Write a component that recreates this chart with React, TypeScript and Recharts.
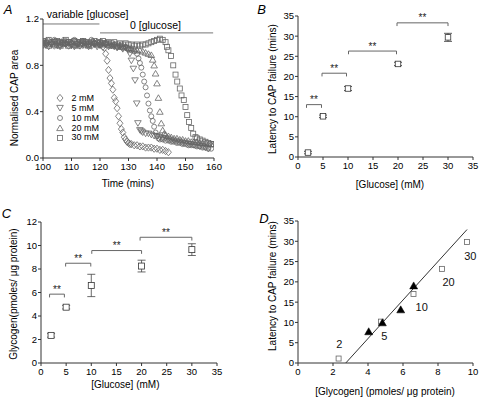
import React from 'react';
import { ComposedChart, Scatter, XAxis, YAxis, ReferenceLine, ErrorBar } from 'recharts';

const FONT = '"Liberation Sans", Arial, Helvetica, sans-serif';
const MARK = '#666';
const AXIS = '#333';
const BRACKET = '#666';

// ---------- Panel A: normalised CAP area vs time ----------
const timeTicksA = [100, 110, 120, 130, 140, 150, 160];
const capTicksA = [0, 0.4, 0.8, 1.2];

const cap2mM: [number, number][] = [
  [100, 1.0], [101, 0.98], [102, 1.01], [103, 0.99], [104, 0.97], [105, 1.0], [106, 0.98], [107, 1.01], [108, 0.99], [109, 0.97],
  [110, 0.99], [111, 1.0], [112, 0.98], [113, 0.97], [114, 0.99], [115, 1.0], [116, 0.98], [117, 0.97], [118, 0.99], [119, 1.0],
  [120, 0.98], [121, 0.96], [121.5, 0.95], [122, 0.9], [122.5, 0.84], [123, 0.76], [123.5, 0.69], [124, 0.645], [124.5, 0.59],
  [125, 0.52], [125.5, 0.49], [126, 0.43], [126.5, 0.36], [127, 0.3], [127.5, 0.25], [128, 0.22], [128.5, 0.18], [129, 0.16],
  [129.5, 0.14], [130, 0.13], [130.5, 0.12], [131, 0.12], [132, 0.11], [133, 0.11], [134, 0.1], [135, 0.1], [136, 0.09],
  [137, 0.09], [138, 0.09], [139, 0.08], [140, 0.08], [141, 0.07], [142, 0.07], [143, 0.06], [144, 0.05],
];
const cap5mM: [number, number][] = [
  [100, 0.97], [101, 0.99], [102, 0.96], [103, 0.98], [104, 1.0], [105, 0.97], [106, 0.96], [107, 0.99], [108, 0.98], [109, 1.0],
  [110, 0.97], [111, 0.96], [112, 0.98], [113, 1.0], [114, 0.97], [115, 0.98], [116, 0.96], [117, 0.99], [118, 0.98], [119, 0.96],
  [120, 0.97], [121, 0.99], [122, 0.98], [123, 0.96], [124, 0.97], [125, 0.96], [126, 0.95], [127, 0.96], [128, 0.94], [129, 0.95],
  [130, 0.93], [130.5, 0.9], [131, 0.84], [131.7, 0.77], [132.3, 0.67], [132.9, 0.47], [133.3, 0.3], [134, 0.24], [134.5, 0.23],
  [135, 0.22], [136, 0.21], [137, 0.21], [138, 0.2], [139, 0.19], [140, 0.19], [141, 0.18], [142, 0.17], [143, 0.17], [144, 0.16],
  [145, 0.15], [146, 0.15], [147, 0.14], [148, 0.14], [149, 0.13], [150, 0.13], [151, 0.12], [152, 0.12], [153, 0.11], [154, 0.11],
  [155, 0.1], [156, 0.1], [157, 0.09], [158, 0.08],
];
const cap10mM: [number, number][] = [
  [100, 0.99], [101, 1.01], [102, 0.98], [103, 1.0], [104, 1.02], [105, 0.99], [106, 1.0], [107, 0.98], [108, 1.01], [109, 0.99],
  [110, 1.0], [111, 1.02], [112, 0.99], [113, 0.98], [114, 1.01], [115, 0.99], [116, 1.0], [117, 1.02], [118, 0.99], [119, 0.98],
  [120, 1.0], [121, 0.99], [122, 0.98], [123, 0.99], [124, 0.97], [125, 0.98], [126, 0.96], [127, 0.97], [128, 0.95], [129, 0.96],
  [130, 0.94], [131, 0.93], [132, 0.92], [133, 0.9], [133.5, 0.86], [134, 0.82], [134.5, 0.78], [135, 0.72], [135.5, 0.66],
  [136, 0.61], [136.5, 0.54], [137, 0.47], [137.5, 0.41], [138, 0.36], [138.5, 0.32], [139, 0.27], [139.5, 0.22], [140, 0.19],
  [140.5, 0.17], [141, 0.16], [142, 0.16], [143, 0.15], [144, 0.15], [145, 0.14], [146, 0.14], [147, 0.13], [148, 0.13],
  [149, 0.12], [150, 0.12], [151, 0.11], [152, 0.11], [153, 0.11], [154, 0.1], [155, 0.1], [156, 0.09], [157, 0.09], [158, 0.08],
  [159, 0.08],
];
const cap20mM: [number, number][] = [
  [100, 0.98], [101, 1.0], [102, 0.97], [103, 0.99], [104, 1.01], [105, 0.98], [106, 0.97], [107, 1.0], [108, 0.99], [109, 0.97],
  [110, 1.0], [111, 0.98], [112, 0.97], [113, 0.99], [114, 1.01], [115, 0.98], [116, 0.97], [117, 0.99], [118, 1.0], [119, 0.98],
  [120, 0.99], [121, 0.98], [122, 1.0], [123, 0.98], [124, 0.97], [125, 0.98], [126, 0.97], [127, 0.96], [128, 0.97], [129, 0.96],
  [130, 0.95], [131, 0.95], [132, 0.94], [133, 0.93], [134, 0.93], [135, 0.92], [136, 0.91], [137, 0.9], [138, 0.89], [138.5, 0.85],
  [139, 0.8], [139.5, 0.73], [140, 0.645], [140.5, 0.52], [141, 0.4], [141.5, 0.3], [142, 0.24], [142.5, 0.21], [143, 0.2],
  [144, 0.19], [145, 0.18], [146, 0.17], [147, 0.17], [148, 0.16], [149, 0.16], [150, 0.15], [151, 0.15], [152, 0.14], [153, 0.14],
  [154, 0.14], [155, 0.13], [156, 0.13], [157, 0.13], [158, 0.12], [159, 0.12], [160, 0.12],
];
const cap30mM: [number, number][] = [
  [100, 1.01], [101, 0.99], [102, 1.02], [103, 1.0], [104, 0.98], [105, 1.01], [106, 1.0], [107, 0.99], [108, 1.02], [109, 1.0],
  [110, 0.98], [111, 1.01], [112, 1.0], [113, 0.99], [114, 1.01], [115, 1.0], [116, 0.98], [117, 1.0], [118, 1.01], [119, 0.99],
  [120, 1.0], [121, 1.01], [122, 0.99], [123, 1.0], [124, 0.99], [125, 1.0], [126, 0.98], [127, 0.99], [128, 0.98], [129, 0.99],
  [130, 0.98], [131, 0.98], [132, 0.97], [133, 0.98], [134, 0.97], [135, 0.98], [136, 0.98], [137, 0.99], [138, 1.0], [139, 1.01],
  [140, 1.02], [141, 1.03], [142, 1.02], [143, 1.0], [143.5, 0.96], [144, 0.93], [144.9, 0.88], [145.7, 0.8], [146.5, 0.72],
  [147.1, 0.66], [148, 0.6], [148.6, 0.54], [149.4, 0.5], [150, 0.44], [150.6, 0.37], [151.2, 0.31], [152, 0.26], [152.7, 0.21],
  [153.5, 0.18], [154, 0.17], [155, 0.16], [156, 0.15], [157, 0.14], [158, 0.13], [159, 0.12], [160, 0.12],
];
const legendLabelsA = ['2 mM', '5 mM', '10 mM', '20 mM', '30 mM'];

// ---------- Panels B & C ----------
const glucoseConc = [2, 5, 10, 20, 30];
const latency = [1.1, 10.1, 17.0, 23.1, 29.7];
const latencyErr = [0.3, 0.3, 0.5, 0.4, 1.0];
const glycogen = [2.35, 4.75, 6.6, 8.25, 9.65];
const glycogenErr = [0.15, 0.15, 0.95, 0.5, 0.5];
const concTicks = [0, 5, 10, 15, 20, 25, 30, 35];
const latencyTicks = [0, 5, 10, 15, 20, 25, 30, 35];
const glycogenTicks = [0, 2, 4, 6, 8, 10, 12];

// significance brackets [x1, x2, y]
const bracketsB: [number, number, number][] = [[1.7, 4.7, 13.0], [4.8, 9.7, 20.8], [10.1, 19.7, 26.3], [19.8, 30, 33.3]];
const bracketsC: [number, number, number][] = [[1.7, 4.65, 5.86], [4.9, 9.9, 8.49], [10.1, 20, 9.57], [19.7, 30, 10.7]];

// ---------- Panel D ----------
const glycogenD = [2.32, 4.74, 6.6, 8.23, 9.66];
const latencyD = [1.1, 10.2, 17.0, 23.2, 29.8];
const triGlycogen = [4.04, 4.82, 5.87, 6.61];
const triLatency = [7.7, 9.9, 13.1, 19.0];
const fitStart = { x: 2.73, y: 0 };
const fitEnd = { x: 9.66, y: 32.9 };
const pointLabelsD = ['2', '5', '10', '20', '30'];
const labelXD = [2.36, 4.93, 7.07, 8.6, 9.85];
const labelYD = [4.8, 6.7, 13.7, 20.0, 26.3];
const glyTicksD = [0, 2, 4, 6, 8, 10];

// ---------- shapes ----------
const sw = 0.8;
const diamond = (p: any) => (
  <path d={`M${p.cx},${p.cy - 3.6}L${p.cx + 3},${p.cy}L${p.cx},${p.cy + 3.6}L${p.cx - 3},${p.cy}Z`} fill="none" stroke={MARK} strokeWidth={sw} />
);
const triDown = (p: any) => (
  <path d={`M${p.cx - 3.3},${p.cy - 2.6}L${p.cx + 3.3},${p.cy - 2.6}L${p.cx},${p.cy + 3}Z`} fill="none" stroke={MARK} strokeWidth={sw} />
);
const triUp = (p: any) => (
  <path d={`M${p.cx},${p.cy - 3}L${p.cx + 3.3},${p.cy + 2.6}L${p.cx - 3.3},${p.cy + 2.6}Z`} fill="none" stroke={MARK} strokeWidth={sw} />
);
const circ = (p: any) => <circle cx={p.cx} cy={p.cy} r={2.5} fill="none" stroke={MARK} strokeWidth={sw} />;
const sq = (s: number, color: string, fill: string) => (p: any) => (
  <rect x={p.cx - s / 2} y={p.cy - s / 2} width={s} height={s} fill={fill} stroke={color} strokeWidth={sw} />
);
const solidTri = (p: any) => (
  <path d={`M${p.cx},${p.cy - 4}L${p.cx + 4},${p.cy + 3}L${p.cx - 4},${p.cy + 3}Z`} fill="#000" stroke="#000" strokeWidth={0.5} />
);
const stars = (p: any) => (
  <text x={p.cx} y={p.cy - 1.5} textAnchor="middle" fontSize={10} fontFamily={FONT} fill="#222">**</text>
);
const pointLabel = (p: any) => (
  <text x={p.cx} y={p.cy} textAnchor="middle" dominantBaseline="central" fontSize={11} fontFamily={FONT} fill="#111">
    {p.payload.t}
  </text>
);

const pts = (arr: [number, number][]) => arr.map(([x, y]) => ({ x, y }));

const tickStyle = { fill: '#000', fontSize: 9.5, fontFamily: FONT };
const axisCommon = {
  stroke: AXIS,
  tickSize: 3,
  tick: tickStyle,
  interval: 0 as const,
  axisLine: { stroke: AXIS },
  tickLine: { stroke: AXIS },
};

const bracketLines = (list: [number, number, number][], drop: number, keyP: string) =>
  list.flatMap(([x1, x2, y], i) => [
    <ReferenceLine key={`${keyP}h${i}`} segment={[{ x: x1, y }, { x: x2, y }]} stroke={BRACKET} strokeWidth={1} />,
    <ReferenceLine key={`${keyP}l${i}`} segment={[{ x: x1, y }, { x: x1, y: y - drop }]} stroke={BRACKET} strokeWidth={1} />,
    <ReferenceLine key={`${keyP}r${i}`} segment={[{ x: x2, y }, { x: x2, y: y - drop }]} stroke={BRACKET} strokeWidth={1} />,
  ]);

const Txt = ({ x, y, size = 10, rotate = false, italic = false, children }: any) => (
  <div
    style={{
      position: 'absolute',
      left: x,
      top: y,
      transform: `translate(-50%, -50%)${rotate ? ' rotate(-90deg)' : ''}`,
      whiteSpace: 'nowrap',
      fontSize: size,
      lineHeight: 1,
      fontFamily: FONT,
      fontStyle: italic ? 'italic' : 'normal',
      color: '#000',
    }}
  >
    {children}
  </div>
);

const legendShapes = [diamond, triDown, circ, triUp, sq(5, MARK, 'none')];
const legendRowsY = [98, 108, 118, 128, 137.5];

export default function App() {
  const dataB = glucoseConc.map((x, i) => ({ x, y: latency[i], err: latencyErr[i] }));
  const dataC = glucoseConc.map((x, i) => ({ x, y: glycogen[i], err: glycogenErr[i] }));
  const starsB = bracketsB.map(([a, b, y]) => ({ x: (a + b) / 2, y }));
  const starsC = bracketsC.map(([a, b, y]) => ({ x: (a + b) / 2, y }));
  const sqD = glycogenD.map((x, i) => ({ x, y: latencyD[i] }));
  const triD = triGlycogen.map((x, i) => ({ x, y: triLatency[i] }));
  const labD = pointLabelsD.map((t, i) => ({ x: labelXD[i], y: labelYD[i], t }));

  return (
    <div style={{ position: 'absolute', left: 0, top: 0, width: 487, height: 404, background: '#fff', overflow: 'hidden' }}>
      {/* Panel A */}
      <div style={{ position: 'absolute', left: 0, top: 0 }}>
        <ComposedChart width={240} height={200} margin={{ top: 19, right: 26, bottom: 22, left: 13 }}>
          <XAxis type="number" dataKey="x" domain={[100, 160]} ticks={timeTicksA} height={20} tickMargin={2} allowDataOverflow {...axisCommon} />
          <YAxis type="number" dataKey="y" domain={[0, 1.2]} ticks={capTicksA} width={30} tickMargin={1} allowDataOverflow
            tickFormatter={(v: number) => v.toFixed(1)} {...axisCommon} />
          <ReferenceLine segment={[{ x: 100, y: 1.157 }, { x: 119.8, y: 1.157 }]} stroke="#777" strokeWidth={1} />
          <ReferenceLine segment={[{ x: 120, y: 1.08 }, { x: 159.7, y: 1.08 }]} stroke="#777" strokeWidth={1} />
          <Scatter data={pts(cap2mM)} shape={diamond} isAnimationActive={false} />
          <Scatter data={pts(cap5mM)} shape={triDown} isAnimationActive={false} />
          <Scatter data={pts(cap10mM)} shape={circ} isAnimationActive={false} />
          <Scatter data={pts(cap20mM)} shape={triUp} isAnimationActive={false} />
          <Scatter data={pts(cap30mM)} shape={sq(5, MARK, 'none')} isAnimationActive={false} />
        </ComposedChart>
      </div>
      {/* Panel B */}
      <div style={{ position: 'absolute', left: 245, top: 0 }}>
        <ComposedChart width={242} height={200} margin={{ top: 16, right: 14, bottom: 23, left: 23 }}>
          <XAxis type="number" dataKey="x" domain={[0, 35]} ticks={concTicks} height={20} tickMargin={2} {...axisCommon} />
          <YAxis type="number" dataKey="y" domain={[0, 35]} ticks={latencyTicks} width={30} tickMargin={1} {...axisCommon} />
          {bracketLines(bracketsB, 0.8, 'b')}
          <Scatter data={starsB} shape={stars} isAnimationActive={false} />
          <Scatter data={dataB} shape={sq(5.5, '#333', '#fff')} isAnimationActive={false}>
            <ErrorBar dataKey="err" direction="y" width={4} stroke="#333" strokeWidth={0.8} />
          </Scatter>
        </ComposedChart>
      </div>
      {/* Panel C */}
      <div style={{ position: 'absolute', left: 0, top: 200 }}>
        <ComposedChart width={245} height={204} margin={{ top: 22, right: 28, bottom: 21, left: 11 }}>
          <XAxis type="number" dataKey="x" domain={[0, 35]} ticks={concTicks} height={20} tickMargin={2} {...axisCommon} />
          <YAxis type="number" dataKey="y" domain={[0, 12]} ticks={glycogenTicks} width={30} tickMargin={1} {...axisCommon} />
          {bracketLines(bracketsC, 0.28, 'c')}
          <Scatter data={starsC} shape={stars} isAnimationActive={false} />
          <Scatter data={dataC} shape={sq(6, '#333', '#fff')} isAnimationActive={false}>
            <ErrorBar dataKey="err" direction="y" width={4} stroke="#444" strokeWidth={0.8} />
          </Scatter>
        </ComposedChart>
      </div>
      {/* Panel D */}
      <div style={{ position: 'absolute', left: 245, top: 200 }}>
        <ComposedChart width={242} height={204} margin={{ top: 21, right: 14, bottom: 21, left: 23 }}>
          <XAxis type="number" dataKey="x" domain={[0, 10]} ticks={glyTicksD} height={20} tickMargin={2} {...axisCommon} />
          <YAxis type="number" dataKey="y" domain={[0, 35]} ticks={latencyTicks} width={30} tickMargin={1} {...axisCommon} />
          <ReferenceLine segment={[fitStart, fitEnd]} stroke="#333" strokeWidth={1} />
          <Scatter data={sqD} shape={sq(5, '#666', '#fff')} isAnimationActive={false} />
          <Scatter data={triD} shape={solidTri} isAnimationActive={false} />
          <Scatter data={labD} shape={pointLabel} isAnimationActive={false} />
        </ComposedChart>
      </div>

      {/* Panel letters */}
      <Txt x={8} y={8.5} size={13} italic>A</Txt>
      <Txt x={261.5} y={9} size={13} italic>B</Txt>
      <Txt x={6.5} y={213} size={13} italic>C</Txt>
      <Txt x={264} y={217.5} size={13} italic>D</Txt>

      {/* Panel A annotations */}
      <Txt x={87.7} y={13.7} size={10.5}>variable [glucose]</Txt>
      <Txt x={155.5} y={25} size={10.5}>0 [glucose]</Txt>
      <Txt x={15} y={98} size={10} rotate>Normalised CAP area</Txt>
      <Txt x={128} y={183.5} size={10}>Time (mins)</Txt>
      {legendLabelsA.map((lab, i) => {
        const Shape = legendShapes[i];
        return (
          <div key={lab} style={{ position: 'absolute', left: 54, top: legendRowsY[i] - 5, height: 10, display: 'flex', alignItems: 'center' }}>
            <svg width={12} height={10} style={{ display: 'block' }}>
              {Shape({ cx: 6, cy: 5 })}
            </svg>
            <span style={{ marginLeft: 5.5, fontSize: 9, fontFamily: FONT, lineHeight: 1, color: '#000' }}>{lab}</span>
          </div>
        );
      })}

      {/* Panel B titles */}
      <Txt x={273} y={89} size={10} rotate>Latency to CAP failure (mins)</Txt>
      <Txt x={390} y={184.7} size={10}>[Glucose] (mM)</Txt>

      {/* Panel C titles */}
      <Txt x={14.3} y={294} size={10} rotate>Glycogen(pmoles/ μg protein)</Txt>
      <Txt x={125.3} y={384.7} size={10}>[Glucose] (mM)</Txt>

      {/* Panel D titles */}
      <Txt x={273} y={285.5} size={10} rotate>Latency to CAP failure (mins)</Txt>
      <Txt x={385} y={392} size={10}>[Glycogen] (pmoles/ μg protein)</Txt>
    </div>
  );
}
